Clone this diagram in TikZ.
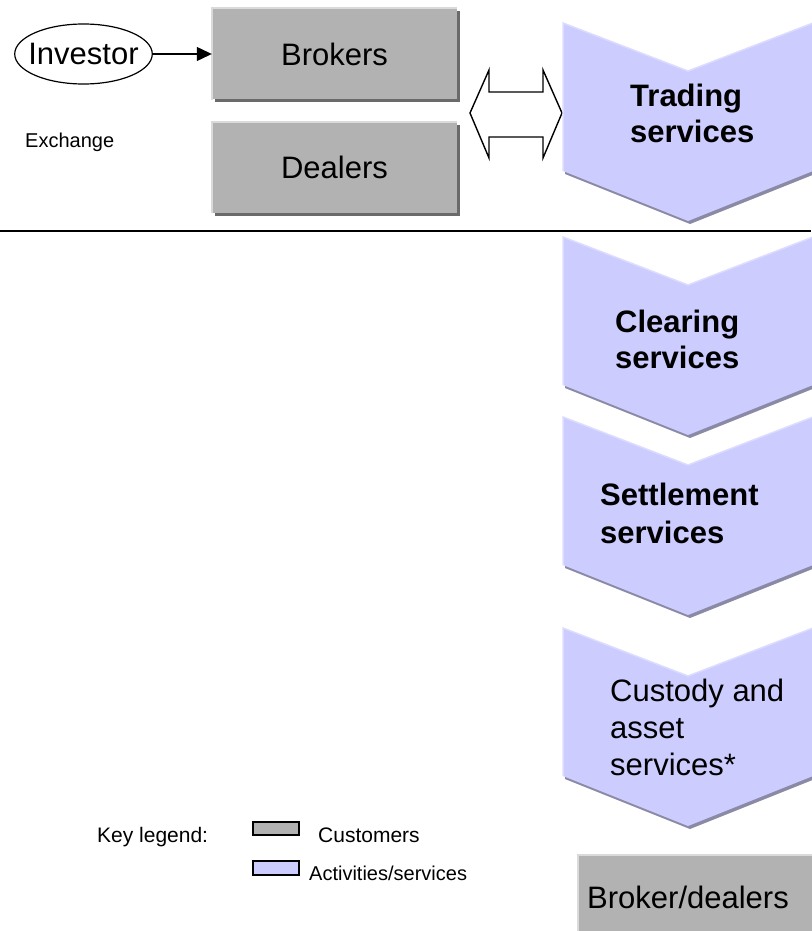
\documentclass[tikz,border=0pt]{standalone}
\usepackage{fontspec}
\setmainfont{Liberation Sans}
\usetikzlibrary{shapes.geometric,arrows.meta,shadows}
\definecolor{custgray}{HTML}{B2B2B2}
\definecolor{custdark}{HTML}{6A6A6A}
\definecolor{custlight}{HTML}{DADADA}
\definecolor{servblue}{HTML}{CCCCFF}
\definecolor{servshade}{HTML}{8A8AA6}
\definecolor{servlight}{HTML}{DCDCFF}
\tikzset{
  custbox/.style={fill=custgray, minimum width=245pt, minimum height=91pt, inner sep=0pt,
    drop shadow={shadow xshift=3pt, shadow yshift=-3pt, fill=custdark, opacity=1},
    font=\fontsize{31}{36}\selectfont},
  servtext/.style={anchor=west, align=left, inner sep=0pt, font=\bfseries\fontsize{31}{36}\selectfont},
  keytext/.style={anchor=base west, inner sep=0pt, font=\fontsize{21}{25}\selectfont},
}
\begin{document}
\begin{tikzpicture}[x=1pt,y=-1pt]
  \useasboundingbox (0,0) rectangle (811,931);
  % customers at the exchange
  \node[ellipse, draw, line width=1.2pt, inner xsep=-6.5pt, inner ysep=0pt, minimum height=60pt,
    font=\fontsize{31}{36}\selectfont] (investor) at (83.5,54) {Investor};
  \node[custbox] (brokers) at (334.5,54) {Brokers};
  \node[custbox] (dealers) at (334.5,167.5) {Dealers};
  \foreach \b in {brokers,dealers}
    \draw[custlight, line width=2pt] (\b.south west) -- (\b.north west) -- (\b.north east);
  \draw[-{Triangle[length=15pt,width=14pt]}, line width=1.2pt] (investor.east) -- (brokers.west);
  \node[keytext, font=\fontsize{20}{24}\selectfont] (exchange) at (25,147) {Exchange};
  % two-way arrow to the trading services
  \draw[line width=1.4pt, line join=miter] (470,113) -- (489,70) -- (489,92) -- (543,92) -- (543,70)
    -- (562,113) -- (543,158) -- (543,137) -- (489,137) -- (489,158) -- cycle;
  \draw[line width=2pt] (0,231) -- (811,231);
  % the chain of services
  \foreach \t in {23,237,417,628} {
    \fill[servshade] (565,\t+2) -- (690,\t+50) -- (815,\t+2) -- (815,\t+151)
      -- (690,\t+201) -- (565,\t+151) -- cycle;
    \fill[servblue] (563,\t) -- (688,\t+48) -- (813,\t) -- (813,\t+148)
      -- (688,\t+198) -- (563,\t+148) -- cycle;
    \draw[servlight, line width=1.5pt] (563,\t+148) -- (563,\t) -- (688,\t+48) -- (813,\t);
  }
  \node[servtext] (trading) at (630,113) {Trading\\services};
  \node[servtext] (clearing) at (615,339) {Clearing\\services};
  \node[servtext, font=\bfseries\fontsize{31}{38}\selectfont] (settlement) at (600,513) {Settlement\\services};
  \node[servtext, font=\fontsize{31}{37}\selectfont] (custody) at (610,727) {Custody and\\asset\\services*};
  % broker/dealers at the bottom
  \fill[custgray] (578,855) rectangle (815,935);
  \draw[custlight, line width=2pt] (578,935) -- (578,855) -- (815,855);
  \node[keytext, font=\fontsize{31}{36}\selectfont] (brokdeal) at (587,908) {Broker/dealers};
  % key legend
  \node[keytext] (keylegend) at (97,842) {Key legend:};
  \draw[line width=1.2pt, fill=custgray] (253,822) rectangle (299,835);
  \node[keytext] (custkey) at (318,842) {Customers};
  \draw[line width=1.2pt, fill=servblue] (253,861) rectangle (299,875);
  \node[keytext, font=\fontsize{20}{24}\selectfont] (servkey) at (309,880) {Activities/services};
\end{tikzpicture}
\end{document}
